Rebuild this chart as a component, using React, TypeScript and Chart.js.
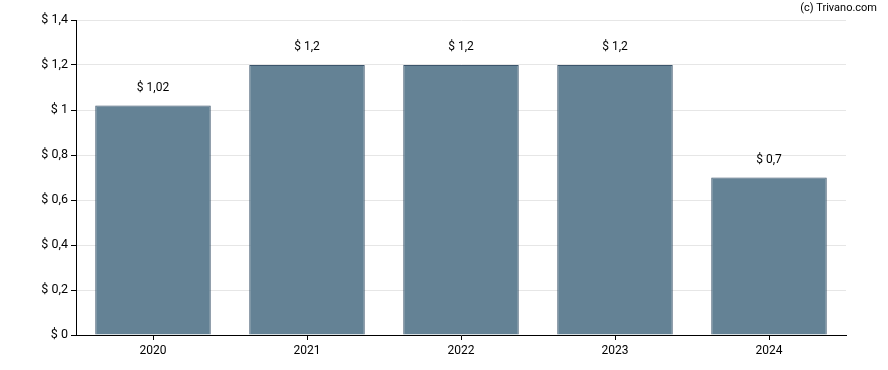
import React, { useEffect, useRef } from "react";
import { Chart, registerables } from "chart.js";

Chart.register(...registerables);

const years = ["2020", "2021", "2022", "2023", "2024"];
const dividends = [1.02, 1.2, 1.2, 1.2, 0.7];
const valueLabels = ["$ 1,02", "$ 1,2", "$ 1,2", "$ 1,2", "$ 0,7"];
const yTickMax = 1.4;
const yTickStep = 0.2;

const FONT = "Roboto, 'Noto Sans', sans-serif";

const fmt = (v: number) => "$ " + String(Math.round(v * 100) / 100).replace(".", ",");

const labelPlugin = {
  id: "valueLabels",
  afterDatasetsDraw(chart: any) {
    const ctx = chart.ctx;
    const meta = chart.getDatasetMeta(0);
    ctx.save();
    ctx.font = "12px " + FONT;
    ctx.fillStyle = "#000";
    ctx.textAlign = "center";
    ctx.textBaseline = "middle";
    meta.data.forEach((bar: any, i: number) => {
      ctx.fillText(valueLabels[i], bar.x, bar.y - 18);
    });
    ctx.font = "11px " + FONT;
    ctx.textAlign = "right";
    ctx.fillText("(c) Trivano.com", 877, 8);
    ctx.restore();
  },
};

export default function App() {
  const ref = useRef<HTMLCanvasElement>(null);
  useEffect(() => {
    const chart = new Chart(ref.current!, {
      type: "bar",
      data: {
        labels: years,
        datasets: [
          {
            data: dividends,
            backgroundColor: "rgba(100,130,149,1)",
            borderColor: "rgba(60,85,108,1)",
            borderWidth: 1,
            barPercentage: 0.75,
            categoryPercentage: 1,
          },
        ],
      },
      options: {
        animation: false,
        responsive: false,
        maintainAspectRatio: false,
        layout: { padding: { top: 20, right: 42, bottom: 0, left: 0 } },
        plugins: { legend: { display: false }, tooltip: { enabled: false } },
        scales: {
          x: {
            offset: true,
            afterFit: (s: any) => {
              s.height = 35;
            },
            grid: {
              offset: false,
              drawOnChartArea: false,
              drawTicks: true,
              tickLength: 5,
              tickColor: "#000",
            },
            border: { color: "#000", width: 1 },
            ticks: { color: "#000", font: { family: FONT, size: 12 }, padding: 4 },
          },
          y: {
            min: 0,
            max: yTickMax,
            afterFit: (s: any) => {
              s.width = 76;
            },
            grid: {
              color: "#e6e6e6",
              tickLength: 5,
              tickColor: "#000",
            },
            border: { color: "#000", width: 1 },
            ticks: {
              stepSize: yTickStep,
              color: "#000",
              font: { family: FONT, size: 12.5 },
              padding: 3,
              callback: (v: any) => fmt(Number(v)),
            },
          },
        },
      },
      plugins: [labelPlugin],
    });
    return () => chart.destroy();
  }, []);
  return (
    <div style={{ position: "fixed", left: 0, top: 0, width: 888, height: 370, background: "#fff" }}>
      <canvas ref={ref} width={888} height={370} style={{ width: 888, height: 370 }} />
    </div>
  );
}
